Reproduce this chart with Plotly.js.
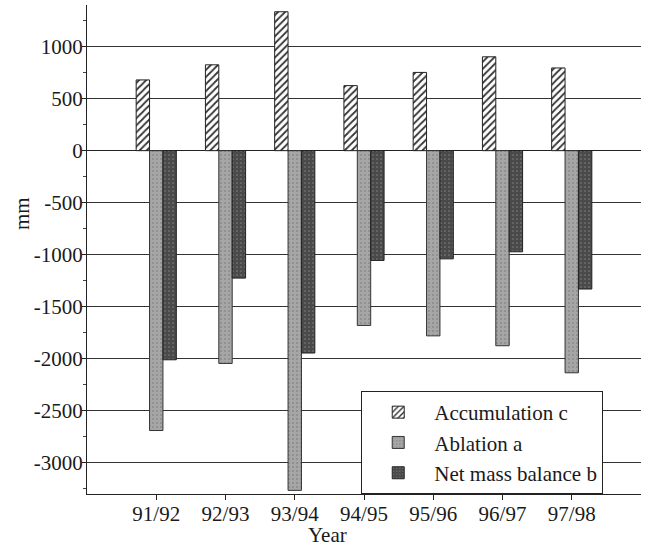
<!DOCTYPE html>
<html>
<head>
<meta charset="utf-8">
<script src="https://cdn.plot.ly/plotly-3.0.1.min.js"></script>
<style>html,body{margin:0;padding:0;background:#fff;}#chart{width:652px;height:546px;}</style>
</head>
<body>
<div id="chart"></div>
<script>
var years = ["91/92", "92/93", "93/94", "94/95", "95/96", "96/97", "97/98"];
var accumulation = [680, 825, 1335, 625, 752, 902, 795];
var ablation = [-2690, -2045, -3265, -1680, -1780, -1875, -2135];
var netBalance = [-2010, -1225, -1945, -1055, -1040, -972, -1330];

var serif = "Liberation Serif, Times New Roman, serif";

var traces = [
  {
    type: "bar", name: "Accumulation c", x: years, y: accumulation,
    marker: {
      color: "#ffffff",
      line: {color: "#222", width: 1},
      pattern: {shape: "/", fgcolor: "#333", bgcolor: "#ffffff", size: 5, solidity: 0.35}
    }
  },
  {
    type: "bar", name: "Ablation a", x: years, y: ablation,
    marker: {
      color: "#a2a2a2",
      line: {color: "#333", width: 1},
      pattern: {shape: ".", fgcolor: "#8a8a8a", bgcolor: "#a6a6a6", size: 4, solidity: 0.2}
    }
  },
  {
    type: "bar", name: "Net mass balance b", x: years, y: netBalance,
    marker: {
      color: "#4e4e4e",
      line: {color: "#222", width: 1},
      pattern: {shape: ".", fgcolor: "#7a7a7a", bgcolor: "#4a4a4a", size: 4, solidity: 0.15}
    }
  }
];

var layout = {
  width: 652, height: 546,
  margin: {l: 87, r: 11, t: 5, b: 52},
  paper_bgcolor: "#ffffff", plot_bgcolor: "#ffffff",
  barmode: "group", bargap: 0.42, bargroupgap: 0,
  font: {family: serif, size: 21, color: "#1a1a1a"},
  showlegend: true,
  legend: {
    x: 0.495, xanchor: "left", y: 0, yanchor: "bottom",
    bgcolor: "#ffffff", bordercolor: "#222", borderwidth: 1,
    font: {family: serif, size: 21, color: "#1a1a1a"},
    tracegroupgap: 0, itemwidth: 62
  },
  xaxis: {
    type: "category", range: [-1, 7],
    showline: true, linecolor: "#222", linewidth: 1,
    showgrid: false, zeroline: false,
    ticks: "outside", ticklen: 5, tickcolor: "#222",
    ticklabelstandoff: -4,
    tickfont: {family: serif, size: 21, color: "#1a1a1a"}
  },
  yaxis: {
    range: [-3300, 1400],
    tickvals: [-3000, -2500, -2000, -1500, -1000, -500, 0, 500, 1000],
    ticktext: ["-3000", "-2500", "-2000", "-1500", "-1000", "-500", "0", "500", "1000"],
    showline: true, linecolor: "#222", linewidth: 1,
    showgrid: true, gridcolor: "#333", gridwidth: 1,
    zeroline: true, zerolinecolor: "#222", zerolinewidth: 1,
    ticks: "outside", ticklen: 4, tickcolor: "#222",
    ticklabelstandoff: -5,
    minor: {dtick: 250, tick0: 0, ticks: "outside", ticklen: 3, tickcolor: "#444", showgrid: false},
    tickfont: {family: serif, size: 21, color: "#1a1a1a"}
  },
  annotations: [
    {text: "mm", xref: "paper", yref: "paper", x: -0.117, y: 0.573, textangle: -90,
     showarrow: false, xanchor: "center", yanchor: "middle",
     font: {family: serif, size: 21, color: "#1a1a1a"}},
    {text: "Year", xref: "paper", yref: "paper", x: 0.435, y: -0.084,
     showarrow: false, xanchor: "center", yanchor: "middle",
     font: {family: serif, size: 21, color: "#1a1a1a"}}
  ]
};

Plotly.newPlot("chart", traces, layout, {displayModeBar: false, staticPlot: true});
</script>
</body>
</html>
